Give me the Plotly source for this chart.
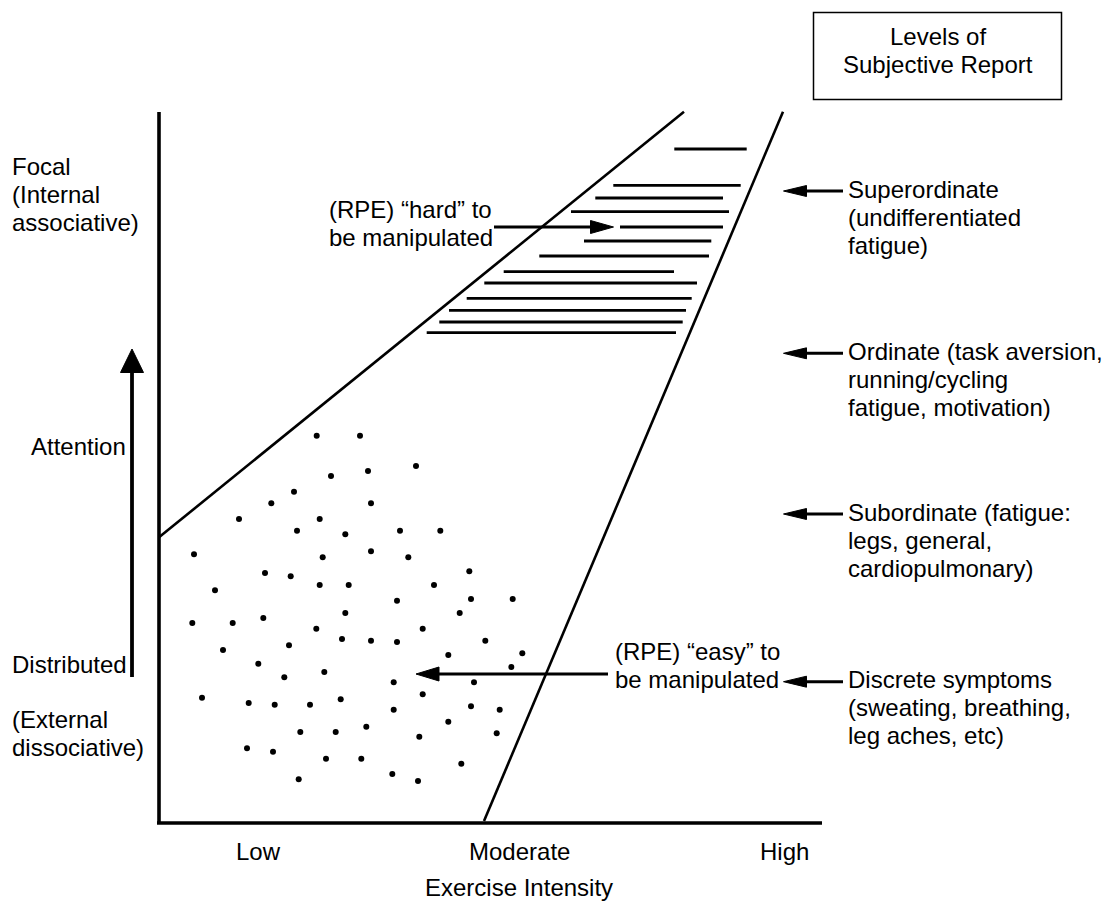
import math
import plotly.graph_objects as go

# ---------------- data (diagram units = pixels of a 1109 x 903 canvas) ----------------
dot_x = [316.7, 360, 416, 331, 368, 294, 271.3, 371, 239, 319.7, 297, 345.3, 400, 440.3,
         194, 322.7, 371, 408.3, 469.3, 265, 290.7, 319.7, 348.7, 434, 215, 397, 471, 512.7,
         459.7, 345.3, 192.3, 232.7, 263.3, 316.3, 422.7, 342, 371, 397, 485.3, 223, 289,
         448.3, 522.3, 511.3, 258.3, 284.3, 324.3, 393.7, 474, 422.7, 202, 248.7, 274.7, 310,
         340.7, 393.7, 471, 499.7, 448.3, 300.3, 335.7, 366.3, 419.3, 496.7, 247, 273, 326,
         361.3, 461.3, 298.7, 392.3, 418]
dot_y = [435.7, 435.7, 466, 476, 471, 491.7, 503.3, 503.3, 519, 519, 530.7, 534.3, 530.7, 530.7,
         554.3, 557.3, 551.3, 557.3, 571.3, 573, 576.3, 585, 585, 585, 590.3, 600.7, 599, 599,
         613, 613, 623, 623, 618, 628.7, 628.7, 639, 640.7, 642, 640.7, 650, 645.3,
         655, 653.3, 667, 663.7, 677.3, 672, 682.3, 682.3, 694.3, 697.7, 703, 704.7, 704.7,
         699.3, 709.7, 706.3, 709.7, 721.7, 732, 732, 726.7, 736.7, 733.3, 748.3, 751.7, 758.7,
         758.7, 763.7, 779.3, 774, 781]

hatch_y = [149, 185.3, 198, 211.7, 227, 241, 256, 271.7, 283, 298.3, 310.3, 322, 332.7]
hatch_x0 = [674.3, 613.3, 595.3, 571, 620, 584, 539.3, 503.7, 484.3, 466.7, 449, 439.3, 426.7]
hatch_x1 = [746.7, 740.7, 723, 729, 723, 711.3, 709, 674, 697, 691.7, 686, 682.7, 676]

intensity_labels = ["Low", "Moderate", "High"]
intensity_pos = [258, 519, 784]

level_labels = ["Superordinate\n(undifferentiated\nfatigue)",
                "Ordinate (task aversion,\nrunning/cycling\nfatigue, motivation)",
                "Subordinate (fatigue:\nlegs, general,\ncardiopulmonary)",
                "Discrete symptoms\n(sweating, breathing,\nleg aches, etc)"]
level_y = [191, 353.3, 514, 681.7]

# ---------------- geometry / style ----------------
W, H = 1109, 903
FS = 24
LS = 28
FONT = dict(family="Liberation Sans, Arial, sans-serif", size=FS, color="black")

axis_x, axis_top, axis_bottom = 159, 112, 823
xaxis_left, xaxis_right = 157, 822
left_edge = ((159, 537.3), (684, 111.7))
right_edge = ((484, 821), (783, 111.7))

fig = go.Figure()

def seg_trace(xs, ys, width):
    fig.add_trace(go.Scatter(x=xs, y=ys, mode="lines", hoverinfo="skip",
                             line=dict(color="black", width=width), showlegend=False))

# axes
seg_trace([axis_x, axis_x, None, xaxis_left, xaxis_right],
          [axis_top, axis_bottom, None, axis_bottom, axis_bottom], 3.6)
# boundary lines
seg_trace([left_edge[0][0], left_edge[1][0], None, right_edge[0][0], right_edge[1][0]],
          [left_edge[0][1], left_edge[1][1], None, right_edge[0][1], right_edge[1][1]], 2.6)
# hatch lines
hx, hy = [], []
for y, a, b in zip(hatch_y, hatch_x0, hatch_x1):
    hx += [a, b, None]
    hy += [y, y, None]
seg_trace(hx, hy, 2.8)

# dots
fig.add_trace(go.Scatter(x=dot_x, y=dot_y, mode="markers", hoverinfo="skip", showlegend=False,
                         marker=dict(color="black", size=6, line=dict(width=0))))

# arrows
def arrow(x0, y0, x1, y1, head_len=23, half=6, width=3):
    dx, dy = x1 - x0, y1 - y0
    L = math.hypot(dx, dy)
    ux, uy = dx / L, dy / L
    bx, by = x1 - ux * head_len, y1 - uy * head_len
    px, py = -uy, ux
    seg_trace([x0, bx + ux * 2], [y0, by + uy * 2], width)
    fig.add_trace(go.Scatter(x=[x1, bx + px * half, bx - px * half, x1],
                             y=[y1, by + py * half, by - py * half, y1],
                             mode="lines", fill="toself", fillcolor="black",
                             line=dict(color="black", width=1), hoverinfo="skip", showlegend=False))

arrow(132, 677, 132, 349, head_len=23.5, half=11.5, width=3.8)   # attention
arrow(494, 227, 613.5, 227, head_len=23, half=6.5, width=3)      # hard
arrow(608, 674, 416, 674, head_len=23, half=7, width=3)          # easy
for y in level_y:
    arrow(843, y, 783.5, y, head_len=23, half=5.5, width=3)

# text helper: each line placed by baseline
def text_block(x, first_baseline, text, anchor="left"):
    for i, line in enumerate(text.split("\n")):
        base = first_baseline + i * LS
        fig.add_annotation(x=x, y=base - 0.3465 * FS, text=line, showarrow=False,
                           xanchor=anchor, yanchor="middle", font=FONT,
                           borderpad=0, borderwidth=0)

text_block(12, 175, "Focal\n(Internal\nassociative)")
text_block(126, 455, "Attention", anchor="right")
text_block(12, 672.7, "Distributed")
text_block(12, 728.3, "(External\ndissociative)")
text_block(329, 217.5, "(RPE) \u201chard\u201d to\nbe manipulated")
text_block(615, 660, "(RPE) \u201ceasy\u201d to\nbe manipulated")
for lab, y in zip(level_labels, level_y):
    text_block(848, y + 6.5, lab)

# levels box
fig.add_shape(type="rect", x0=813.5, y0=12.5, x1=1061.5, y1=99.5,
              line=dict(color="black", width=1.5), fillcolor="rgba(0,0,0,0)")
text_block(937.5, 45, "Levels of\nSubjective Report", anchor="center")

# x category labels and title
for lab, xp in zip(intensity_labels, intensity_pos):
    text_block(xp, 860, lab, anchor="center")
text_block(519, 896, "Exercise Intensity", anchor="center")

fig.update_layout(width=W, height=H, margin=dict(l=0, r=0, t=0, b=0),
                  paper_bgcolor="white", plot_bgcolor="white", showlegend=False,
                  xaxis=dict(range=[0, W], visible=False, fixedrange=True),
                  yaxis=dict(range=[H, 0], visible=False, fixedrange=True))

fig.write_html("out.html", config={"displayModeBar": False, "staticPlot": True},
               post_script="document.body.style.margin='0';document.body.style.overflow='hidden';")
